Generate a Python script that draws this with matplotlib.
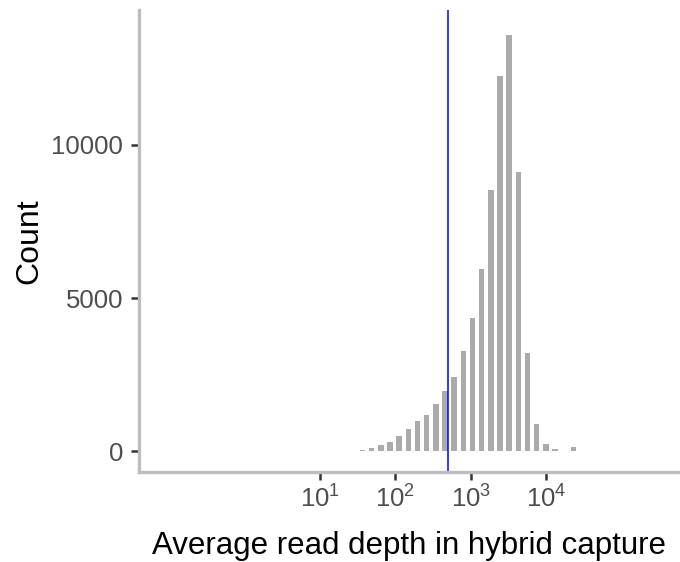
import matplotlib
matplotlib.use('Agg')
import matplotlib.pyplot as plt
import numpy as np

plt.rcParams['font.family'] = ['Liberation Sans', 'DejaVu Sans']
plt.rcParams['mathtext.fontset'] = 'custom'
plt.rcParams['mathtext.rm'] = 'Liberation Sans'

# bin centres (log10 of average read depth) and counts
log_depth_mid = [1.442, 1.564, 1.685, 1.807, 1.929, 2.051, 2.172, 2.294,
                 2.416, 2.537, 2.659, 2.781, 2.902, 3.024, 3.146, 3.268,
                 3.389, 3.511, 3.633, 3.754, 3.876, 3.998, 4.119, 4.241,
                 4.363]
counts = [25, 30, 98, 218, 293, 489, 740, 978,
          1196, 1542, 1956, 2422, 3260, 4359, 5933, 8531,
          12235, 13571, 9118, 3205, 890, 238, 75, 25,
          150]
cutoff = 500

bin_w = 0.1217
bar_frac = 0.6

fig = plt.figure(figsize=(6.8, 5.62), dpi=100)
ax = fig.add_axes([139 / 680, (562 - 471.7) / 562,
                   (680 - 139) / 680, (471.7 - 10) / 562])

mid = np.array(log_depth_mid)
left = 10 ** (mid - bin_w * bar_frac / 2)
right = 10 ** (mid + bin_w * bar_frac / 2)
ax.bar(left, counts, width=right - left, align='edge',
       color='#ABABAB', linewidth=0)

ax.axvline(cutoff, color='#0000FF', linewidth=1.1)

ax.set_xscale('log')
ax.set_xlim(10 ** -1.404, 10 ** 5.78)
ax.set_ylim(-665, 14393)
ax.set_xticks([10, 100, 1000, 10000])
ax.xaxis.set_minor_locator(matplotlib.ticker.NullLocator())
ax.set_yticks([0, 5000, 10000])
ax.set_yticklabels(['0', '5000', '10000'])

for side in ['top', 'right']:
    ax.spines[side].set_visible(False)
for side in ['left', 'bottom']:
    ax.spines[side].set_color('#BEBEBE')
    ax.spines[side].set_linewidth(2.4)

ax.tick_params(axis='both', colors='#333333', length=5.5, width=1.8,
               labelsize=18.5, labelcolor='#4D4D4D')
ax.tick_params(axis='x', pad=4.5)
ax.tick_params(axis='y', pad=6)

ax.set_xlabel('Average read depth in hybrid capture', fontsize=22.5,
              color='black', labelpad=13)
ax.set_ylabel('Count', fontsize=23, color='black', labelpad=5)

fig.savefig('out.png', dpi=100)
